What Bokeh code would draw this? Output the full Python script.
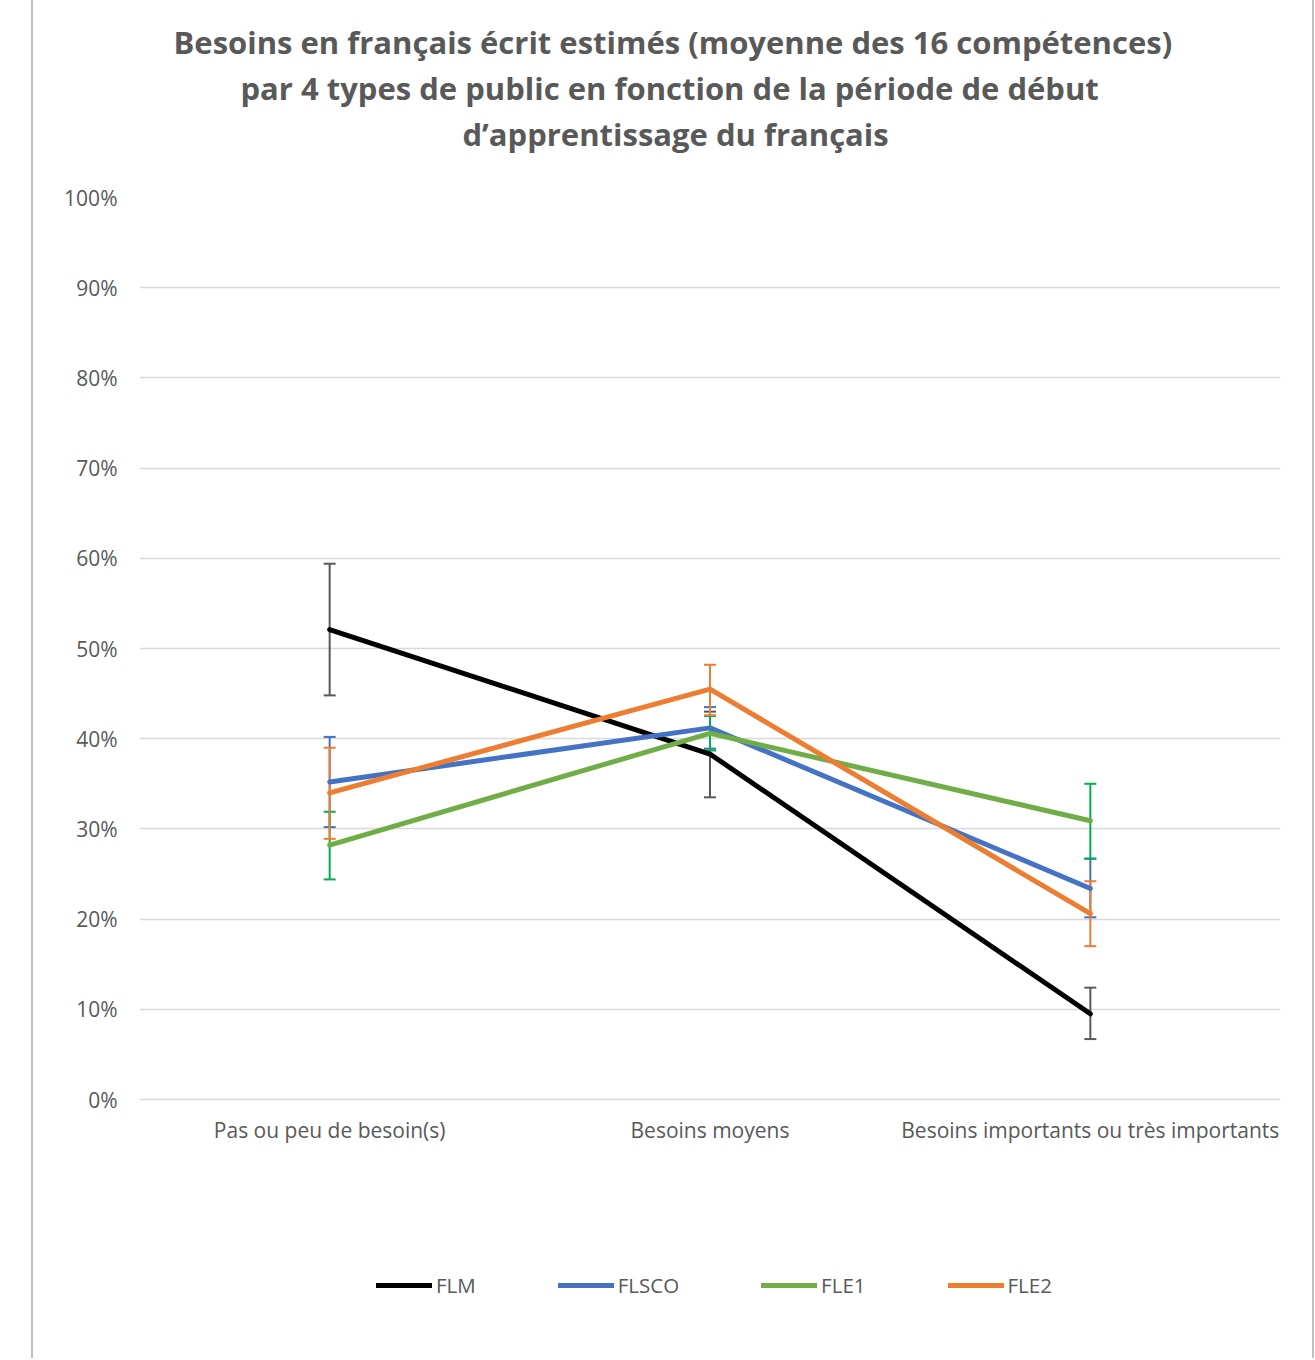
from bokeh.plotting import figure
from bokeh.models import ColumnDataSource, Whisker, Legend, LegendItem, Title, FactorRange, NumeralTickFormatter, FixedTicker
from bokeh.embed import file_html
from bokeh.resources import INLINE

categories = ["Pas ou peu de besoin(s)", "Besoins moyens", "Besoins importants ou très importants"]
series_names = ["FLM", "FLSCO", "FLE1", "FLE2"]

flm = [0.521, 0.383, 0.095]
flm_upper = [0.594, 0.430, 0.124]
flm_lower = [0.448, 0.335, 0.067]

flsco = [0.352, 0.412, 0.234]
flsco_upper = [0.402, 0.435, 0.267]
flsco_lower = [0.302, 0.389, 0.202]

fle1 = [0.282, 0.406, 0.309]
fle1_upper = [0.319, 0.425, 0.350]
fle1_lower = [0.244, 0.387, 0.267]

fle2 = [0.340, 0.455, 0.206]
fle2_upper = [0.390, 0.482, 0.242]
fle2_lower = [0.289, 0.426, 0.170]

y_ticks = [0, 0.1, 0.2, 0.3, 0.4, 0.5, 0.6, 0.7, 0.8, 0.9, 1.0]

title_lines = [
    "Besoins en français écrit estimés (moyenne des 16 compétences)",
    "par 4 types de public en fonction de la période de début",
    "d’apprentissage du français",
]
# left offsets of each title line from the plot frame (centres the lines on the chart box)
title_offsets = [34, 101, 323]

line_colors = ["#000000", "#4472C4", "#70AD47", "#ED7D31"]
bar_colors = ["#595959", "#4472C4", "#00B050", "#ED7D31"]

FONT = "Open Sans"
GRAY = "#595959"

TOP, BOTTOM, LEFT, RIGHT = 197, 55, 139, 35
W, H = 1315, 1358
frame_h = H - TOP - BOTTOM
px_per_unit = 902.0
y_min = -(frame_h - px_per_unit) / px_per_unit

p = figure(
    x_range=FactorRange(*categories, range_padding=0),
    y_range=(y_min, 1.0),
    width=W, height=H,
    output_backend="svg", toolbar_location=None,
    min_border_left=LEFT, min_border_right=RIGHT,
    min_border_top=TOP, min_border_bottom=BOTTOM,
)
p.outline_line_color = None
p.background_fill_color = "white"
p.border_fill_color = None
p.styles = {
    "background": "linear-gradient(to right, transparent 31px, #bfbfbf 31px, #bfbfbf 33px, transparent 33px, transparent 1312px, #bfbfbf 1312px, #bfbfbf 1314px, transparent 1314px)"
}

# spacer between the frame and the title block
spacer = Title(text=" ", text_font_size="1px", standoff=39)
p.add_layout(spacer, "above")
for line, off in zip(reversed(title_lines), reversed(title_offsets)):
    t = Title(text=line, align="left", offset=off, standoff=2,
              text_font=FONT, text_font_size="31px", text_font_style="bold",
              text_color=GRAY)
    p.add_layout(t, "above")

p.yaxis.ticker = FixedTicker(ticks=y_ticks)
p.yaxis.formatter = NumeralTickFormatter(format="0%")
p.xaxis.fixed_location = 0
for ax in (p.xaxis, p.yaxis):
    ax.axis_line_color = None
    ax.major_tick_line_color = None
    ax.minor_tick_line_color = None
    ax.major_label_text_font = FONT
    ax.major_label_text_font_size = "21px"
    ax.major_label_text_color = GRAY
p.yaxis.major_label_standoff = 16
p.xaxis.major_label_standoff = 10
p.xgrid.grid_line_color = None
p.ygrid.grid_line_color = "#d9d9d9"
p.ygrid.grid_line_width = 1.5
p.ygrid.ticker = FixedTicker(ticks=y_ticks)

all_vals = [flm, flsco, fle1, fle2]
all_up = [flm_upper, flsco_upper, fle1_upper, fle2_upper]
all_lo = [flm_lower, flsco_lower, fle1_lower, fle2_lower]

sources = []
for vals, up, lo in zip(all_vals, all_up, all_lo):
    sources.append(ColumnDataSource(dict(x=categories, y=vals, upper=up, lower=lo)))

for src, bc in zip(sources, bar_colors):
    w = Whisker(base="x", upper="upper", lower="lower", source=src,
                line_color=bc, line_width=2)
    w.upper_head.size = 12
    w.lower_head.size = 12
    w.upper_head.line_color = bc
    w.lower_head.line_color = bc
    w.upper_head.line_width = 2
    w.lower_head.line_width = 2
    p.add_layout(w)

items = []
for src, lc, name in zip(sources, line_colors, series_names):
    r = p.line("x", "y", source=src, line_color=lc, line_width=5,
               line_cap="round", line_join="round")
    items.append(LegendItem(label=name, renderers=[r]))

legend = Legend(items=items, orientation="horizontal", location=(237, 4),
                glyph_width=56, glyph_height=20, label_standoff=4, spacing=82,
                padding=0, margin=0, border_line_color=None, background_fill_alpha=0,
                label_text_font=FONT, label_text_font_size="20.5px", label_text_color=GRAY)
p.add_layout(legend, "center")

open("out.html", "w").write(file_html(p, INLINE))
